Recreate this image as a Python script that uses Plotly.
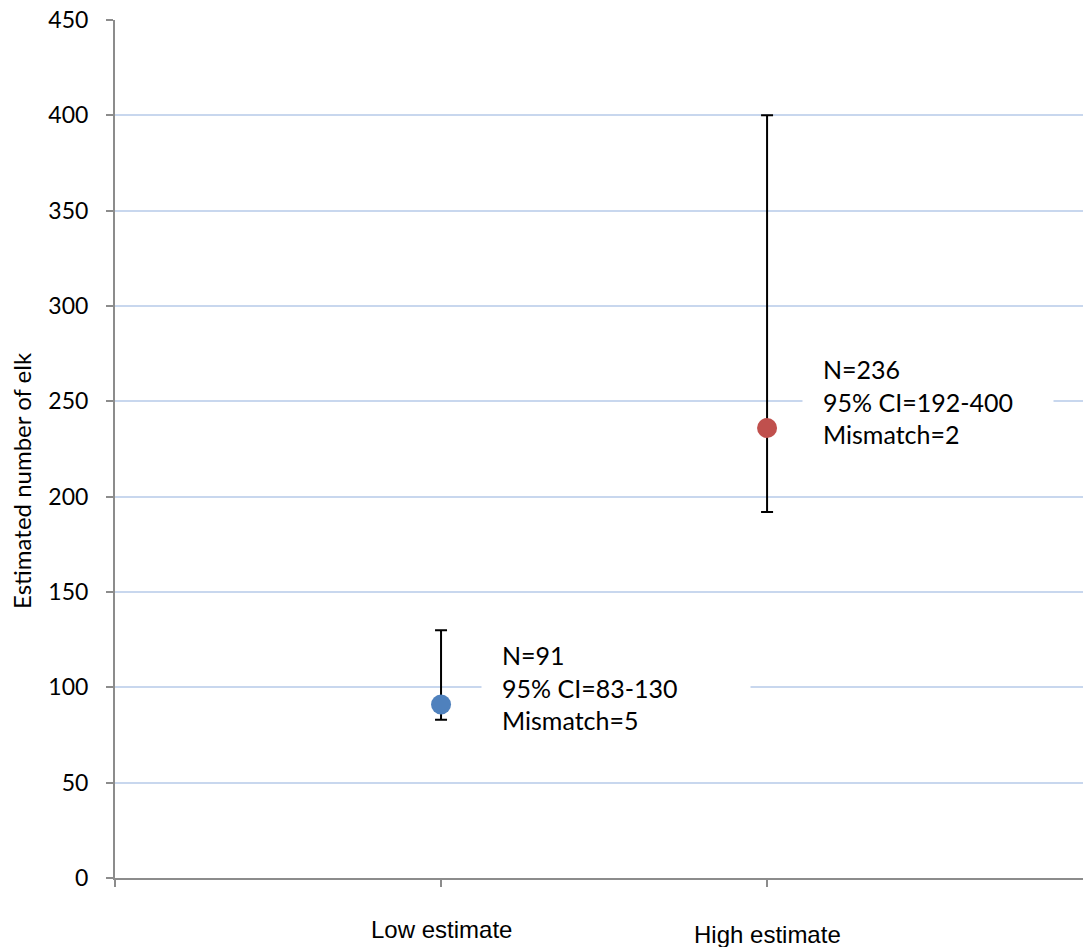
import plotly.graph_objects as go

# Elk population estimates with 95% confidence intervals
categories = ["Low estimate", "High estimate"]
estimates = [91, 236]
ci_lower = [83, 192]
ci_upper = [130, 400]
mismatch = [5, 2]
point_colors = ["#4F81BD", "#C0504D"]

y_ticks = list(range(0, 451, 50))

x_pos = list(range(1, len(categories) + 1))
err_plus = [u - v for u, v in zip(ci_upper, estimates)]
err_minus = [v - l for v, l in zip(estimates, ci_lower)]

fig = go.Figure()
fig.add_trace(go.Scatter(
    x=x_pos,
    y=estimates,
    mode="markers",
    marker=dict(size=20, color=point_colors, line=dict(width=0)),
    error_y=dict(type="data", array=err_plus, arrayminus=err_minus,
                 color="black", thickness=2, width=6),
    showlegend=False,
    hoverinfo="skip",
))

annot_font = dict(family="Lato, Calibri, sans-serif", size=25, color="black")
label_font = dict(family="Liberation Sans, Arial, sans-serif", size=24, color="black")

annotations = []
# Summary text boxes beside each point
box_specs = [(1.123, 100, 228), (2.107, 250, 210)]
for (bx, by, bw), n, lo, hi, mm in zip(box_specs, estimates, ci_lower, ci_upper, mismatch):
    annotations.append(dict(
        x=bx, y=by, xref="x", yref="y", xanchor="left", yanchor="middle",
        text=f"N={n}<br>95% CI={lo}-{hi}<br>Mismatch={mm}",
        showarrow=False, align="left", width=bw,
        bgcolor="white", borderpad=20, font=annot_font,
    ))

# Category labels under the axis
for xp, cat, ly in zip(x_pos, categories, [-0.0606, -0.0664]):
    annotations.append(dict(
        x=xp, y=ly, xref="x", yref="paper", xanchor="center", yanchor="middle",
        text=cat, showarrow=False, font=label_font,
    ))

# Y-axis title
annotations.append(dict(
    x=-0.0971, y=0.4627, xref="paper", yref="paper",
    xanchor="center", yanchor="middle", textangle=-90,
    text="Estimated number of elk", showarrow=False,
    font=dict(family="Lato, Calibri, sans-serif", size=24, color="black"),
))

fig.update_layout(
    width=1083, height=947,
    margin=dict(l=115, r=0, t=20, b=69),
    paper_bgcolor="white", plot_bgcolor="white",
    annotations=annotations,
    xaxis=dict(
        range=[0, 2.969], tickvals=[0, 1, 2], showticklabels=False,
        ticks="outside", ticklen=7, tickcolor="#8C8C8C", tickwidth=1.5,
        showgrid=False, zeroline=False,
        showline=True, linecolor="#8C8C8C", linewidth=2,
    ),
    yaxis=dict(
        range=[0, 450], tickvals=y_ticks,
        ticks="outside", ticklen=7, tickcolor="#8C8C8C", tickwidth=1.5,
        showgrid=True, gridcolor="#C8D7EE", gridwidth=1.5,
        zeroline=False, showline=True, linecolor="#8C8C8C", linewidth=2,
        tickfont=dict(family="Lato, Calibri, sans-serif", size=23, color="black"),
        ticklabelstandoff=13,
    ),
)

fig.write_html("out.html")
